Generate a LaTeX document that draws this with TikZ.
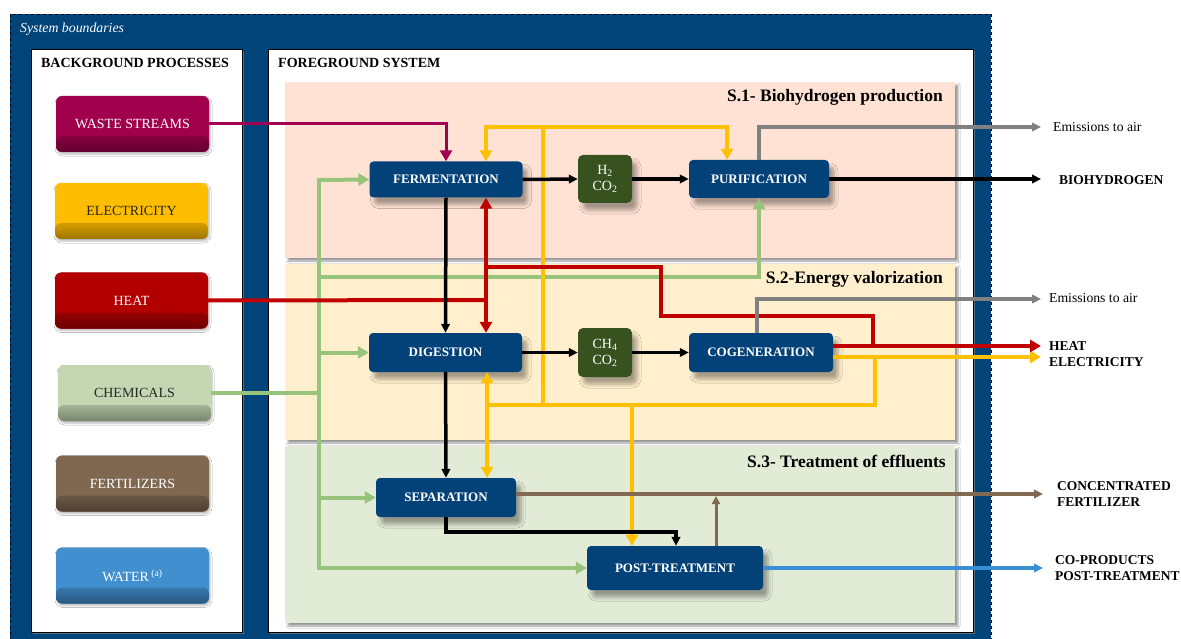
\documentclass[tikz,border=0pt]{standalone}
\usepackage{fontspec}
\setmainfont{Liberation Serif}
\usetikzlibrary{arrows.meta,shadows,shadows.blur,calc}
\definecolor{sysblue}{RGB}{1,68,122}
\definecolor{procblue}{RGB}{2,66,120}
\definecolor{gasgreen}{RGB}{55,82,31}
\definecolor{wastec}{RGB}{161,0,76}
\definecolor{elecc}{RGB}{255,189,0}
\definecolor{heatc}{RGB}{178,0,0}
\definecolor{chemc}{RGB}{196,215,178}
\definecolor{fertc}{RGB}{127,103,80}
\definecolor{waterc}{RGB}{65,143,207}
\definecolor{sonec}{RGB}{255,226,211}
\definecolor{stwoc}{RGB}{255,239,204}
\definecolor{sthreec}{RGB}{226,235,214}
\definecolor{lgreen}{RGB}{151,196,122}
\definecolor{brownl}{RGB}{130,105,82}
\definecolor{bluel}{RGB}{60,142,212}
\definecolor{grayl}{RGB}{128,128,128}
\definecolor{yell}{RGB}{255,192,0}
\definecolor{redl}{RGB}{192,0,0}
\definecolor{magl}{RGB}{162,0,82}
\begin{document}
\begin{tikzpicture}[x=1pt,y=-1pt,
  bgbox/.style={rounded corners=6pt, minimum width=153pt, minimum height=56pt, fill=#1,
    font=\fontsize{14}{16}\selectfont,
    blur shadow={shadow xshift=1pt, shadow yshift=-2pt, shadow blur radius=2pt, shadow opacity=30},
    path picture={\shade[top color=#1, bottom color=#1!62!black, middle color=#1]
      ([yshift=16pt]path picture bounding box.south west) rectangle (path picture bounding box.south east);}},
  proc/.style={rounded corners=4pt, fill=procblue, text=white, inner sep=0pt,
    font=\bfseries\fontsize{13}{15}\selectfont,
    blur shadow={shadow xshift=5pt, shadow yshift=-7pt, shadow blur radius=4pt, shadow opacity=35}},
  gas/.style={rounded corners=5pt, fill=gasgreen, text=white, inner sep=0pt, align=center,
    font=\fontsize{14}{16}\selectfont, minimum width=54pt, minimum height=48pt,
    blur shadow={shadow xshift=5pt, shadow yshift=-7pt, shadow blur radius=4pt, shadow opacity=35}},
  panel/.style={blur shadow={shadow xshift=3pt, shadow yshift=-3pt, shadow blur radius=2pt, shadow opacity=40}},
  seclbl/.style={anchor=east, inner sep=0pt, font=\bfseries\fontsize{17.5}{19}\selectfont},
  outlbl/.style={anchor=west, inner sep=0pt, align=left, font=\bfseries\fontsize{13.5}{16}\selectfont},
  emislbl/.style={anchor=west, inner sep=0pt, font=\fontsize{13.7}{15}\selectfont},
  bigtip/.style={-{Triangle[length=11pt,width=12pt]}},
  bigtips/.style={{Triangle[length=11pt,width=12pt]}-{Triangle[length=11pt,width=12pt]}},
  smalltip/.style={-{Triangle[length=9pt,width=8.5pt]}},
  magline/.style={draw=magl, line width=3pt},
  yline/.style={draw=yell, line width=4pt},
  rline/.style={draw=redl, line width=4pt},
  gline/.style={draw=lgreen, line width=4pt},
  kline/.style={draw=black, line width=3.5pt},
  grline/.style={draw=grayl, line width=3.5pt},
  bnline/.style={draw=brownl, line width=4pt},
  blline/.style={draw=bluel, line width=3.5pt}
]
\useasboundingbox (0,0) rectangle (1181,639);
\clip (0,0) rectangle (1181,639);
% system boundaries
\draw[fill=sysblue, dashed, line width=0.6pt] (10,14) rectangle (991,650);
\node[anchor=west, inner sep=0pt, text=white, font=\itshape\fontsize{13.8}{15}\selectfont] (sysl) at (20,29) {System boundaries};
% white panels
\draw[fill=white, draw=black, line width=0.6pt, drop shadow={shadow xshift=2pt, shadow yshift=-2pt, opacity=0.7}] (31,49) rectangle (242,632);
\draw[fill=white, draw=black, line width=0.6pt, drop shadow={shadow xshift=2pt, shadow yshift=-2pt, opacity=0.7}] (268,49) rectangle (973,632);
\node[inner sep=0pt, font=\bfseries\fontsize{14}{16}\selectfont] (bgl) at (135,63) {BACKGROUND PROCESSES};
\node[anchor=west, inner sep=0pt, font=\bfseries\fontsize{14}{16}\selectfont] (fgl) at (278,63) {FOREGROUND SYSTEM};
% section bands
\fill[sonec, panel] (285,82) rectangle (955,258);
\fill[stwoc, panel] (285,264) rectangle (955,440);
\fill[sthreec, panel] (285,446) rectangle (955,623);
\node[seclbl] (s1l) at (943,97) {S.1- Biohydrogen production};
\node[seclbl] (s2l) at (943,279) {S.2-Energy valorization};
\node[seclbl] (s3l) at (946,461) {S.3- Treatment of effluents};
% background boxes
\node[bgbox=wastec, text=white] (waste) at (132.5,124) {WASTE STREAMS};
\node[bgbox=elecc, text=black!85] (elec) at (131.5,211) {ELECTRICITY};
\node[bgbox=heatc, text=white] (heat) at (131.5,300.5) {HEAT};
\node[bgbox=chemc, text=black!85] (chem) at (134.5,393) {CHEMICALS};
\node[bgbox=fertc, text=white] (fert) at (132.5,483.5) {FERTILIZERS};
\node[bgbox=waterc, text=white] (water) at (132.5,575.5) {WATER\,\textsuperscript{(a)}};
% process nodes
\node[proc, minimum width=153pt, minimum height=36pt] (ferm) at (446,179.5) {FERMENTATION};
\node[gas] (h2) at (605,179) {H\textsubscript{2}\\CO\textsubscript{2}};
\node[proc, minimum width=140pt, minimum height=38pt] (puri) at (759,179) {PURIFICATION};
\node[proc, minimum width=153pt, minimum height=39pt] (dig) at (445.5,352.5) {DIGESTION};
\node[gas, minimum height=49pt] (ch4) at (605,352.5) {CH\textsubscript{4}\\CO\textsubscript{2}};
\node[proc, minimum width=144pt, minimum height=39pt] (cogen) at (761,352.5) {COGENERATION};
\node[proc, minimum width=140pt, minimum height=39pt] (sep) at (446,497.5) {SEPARATION};
\node[proc, minimum width=176pt, minimum height=44pt] (post) at (675,568) {POST-TREATMENT};
% output labels
\node[emislbl] (em1) at (1053,127) {Emissions to air};
\node[outlbl] (bioh) at (1059,180) {BIOHYDROGEN};
\node[emislbl] (em2) at (1049,298) {Emissions to air};
\node[outlbl] (heatl) at (1049,346) {HEAT};
\node[outlbl] (elecl) at (1049,362) {ELECTRICITY};
\node[outlbl] (fertl) at (1057,494) {CONCENTRATED\\FERTILIZER};
\node[outlbl] (copl) at (1055,568) {CO-PRODUCTS\\POST-TREATMENT};
% coordinates
\coordinate (yA) at (486,127);
\coordinate (yB) at (543,127);
\coordinate (yC) at (727,127);
\coordinate (yD) at (543,405);
\coordinate (yE) at (487,405);
\coordinate (yF) at (875,405);
\coordinate (yG) at (875,357);
\coordinate (yH) at (632,405);
\coordinate (elecout) at (1041,357);
\coordinate (rv) at (486,300);
\coordinate (r1) at (486,267);
\coordinate (r2) at (661,267);
\coordinate (r3) at (661,316);
\coordinate (r4) at (873,316);
\coordinate (r5) at (873,346);
\coordinate (heatout) at (1041,346);
\coordinate (g0) at (319,180);
\coordinate (g1) at (319,568);
\coordinate (g2) at (319,277);
\coordinate (g3) at (759,277);
\coordinate (bioout) at (1041,179);
\coordinate (b2) at (676,532);
\coordinate (e1) at (1041,127);
\coordinate (e2) at (757,299);
\coordinate (e3) at (1041,299);
\coordinate (fertout) at (1043,494);
\coordinate (bj) at (716,494);
\coordinate (coout) at (1043,568);
% green (chemicals)
\draw[gline] (chem.east) -- (chem.east -| g0);
\draw[gline, line cap=rect] (g0) -- (g1);
\draw[gline, bigtip] (g0) -- (ferm.west);
\draw[gline, bigtip] (g0 |- dig.west) -- (dig.west);
\draw[gline, bigtip] (g0 |- sep.west) -- (sep.west);
\draw[gline, bigtip] (g1) -- (post.west);
\draw[gline, bigtip] (g2) -- (g3) -- (g3 |- puri.south);
% magenta (waste)
\draw[magline, bigtip] (waste.east) -| (ferm.north);
% yellow (electricity)
\draw[yline, bigtip] (yB) -- (yA) -- (yA |- ferm.north);
\draw[yline, bigtip] (yB) -- (yC) -- (yC |- puri.north);
\draw[yline, line cap=rect] (yB) -- (yD);
\draw[yline] (yE) -- (yF) -- (yG);
\draw[yline, bigtip] (cogen.east |- yG) -- (elecout);
\draw[yline, bigtips] (yE |- dig.south) -- (yE |- sep.north);
\draw[yline, bigtip] (yH) -- (yH |- post.north);
% red (heat)
\draw[rline] (heat.east) -- (rv);
\draw[rline, bigtips] (rv |- ferm.south) -- (rv |- dig.north);
\draw[rline] (r1) -- (r2) -- (r3) -- (r4) -- (r5);
\draw[rline, bigtip] (cogen.east |- r5) -- (heatout);
% black
\draw[kline, smalltip] (ferm.east) -- (h2.west);
\draw[kline, smalltip] (h2.east) -- (puri.west);
\draw[kline, smalltip] (puri.east) -- (bioout);
\draw[kline, smalltip] (ferm.south) -- (dig.north);
\draw[kline, smalltip] (dig.east) -- (ch4.west);
\draw[kline, smalltip] (ch4.east) -- (cogen.west);
\draw[kline, smalltip] (dig.south) -- (sep.north);
\draw[kline, smalltip] (sep.south) |- (b2) -- (b2 |- post.north);
% gray (emissions)
\draw[grline, smalltip] (puri.north) |- (e1);
\draw[grline, smalltip] (cogen.north -| e2) |- (e3);
% brown (fertilizer)
\draw[bnline, smalltip] (sep.east |- fertout) -- (fertout);
\draw[draw=brownl, line width=3pt, -{Triangle[length=8pt,width=8pt]}] (post.north -| bj) -- ([yshift=-2pt]bj);
% blue (co-products)
\draw[blline, smalltip] (post.east) -- (coout);
\end{tikzpicture}
\end{document}
